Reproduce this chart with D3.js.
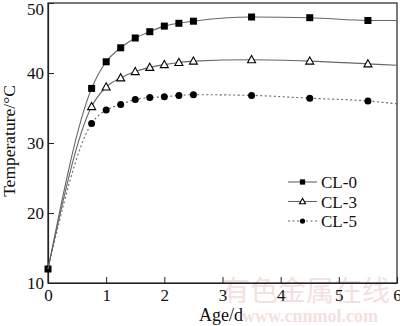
<!DOCTYPE html>
<html><head><meta charset="utf-8">
<script src="https://cdn.jsdelivr.net/npm/d3@7"></script>
<style>body{margin:0;background:#fff}svg{display:block}</style>
</head><body>
<svg id="c" width="400" height="326"></svg>
<script>
const ages = [0, 0.75, 1, 1.25, 1.5, 1.75, 2, 2.25, 2.5, 3.5, 4.5, 5.5, 6];
const cl0 = [12, 37.8, 41.6, 43.6, 45.0, 45.9, 46.7, 47.1, 47.4, 48.0, 47.9, 47.5, 47.5];
const cl3 = [12, 35.2, 38.0, 39.3, 40.2, 40.8, 41.2, 41.5, 41.7, 41.9, 41.7, 41.3, 41.1];
const cl5 = [12, 32.8, 34.7, 35.5, 36.2, 36.5, 36.6, 36.8, 36.9, 36.8, 36.4, 36.0, 35.6];
const seriesNames = ["CL-0", "CL-3", "CL-5"];
const xTicks = [0, 1, 2, 3, 4, 5, 6];
const yTicks = [10, 20, 30, 40, 50];

const svg = d3.select("#c");
const L = 48, R = 397, T = 3, B = 283;
const x = d3.scaleLinear().domain([0, 6]).range([L, R]);
const y = d3.scaleLinear().domain([10, 50]).range([B, T]);
const font = "'Liberation Serif','Times New Roman',serif";

// watermark
svg.append("text").attr("x", 222).attr("y", 301).attr("font-family", "'Noto Sans CJK SC',sans-serif")
  .attr("font-size", 28).attr("fill", "#f4e0e0").text("有色金属在线");
svg.append("text").attr("x", 242).attr("y", 322).attr("font-family", font).attr("font-weight", "bold")
  .attr("font-size", 18).attr("fill", "#f4e0e0").text("www.cnnmol.com");

// frame
svg.append("rect").attr("x", L).attr("y", T).attr("width", R - L).attr("height", B - T)
  .attr("fill", "none").attr("stroke", "#222").attr("stroke-width", 1.2);

const xa = svg.append("g").attr("transform", `translate(0,${B})`)
  .call(d3.axisBottom(x).tickValues(xTicks).tickSizeInner(-6).tickSizeOuter(0).tickPadding(10).tickFormat(d3.format("d")));
const ya = svg.append("g").attr("transform", `translate(${L},0)`)
  .call(d3.axisLeft(y).tickValues(yTicks).tickSizeInner(-6).tickSizeOuter(0).tickPadding(4));
[xa, ya].forEach(a => {
  a.select(".domain").attr("stroke", "#222").attr("stroke-width", 1.2);
  a.selectAll(".tick line").attr("stroke", "#222");
  a.selectAll("text").attr("font-family", font).attr("font-size", 17).attr("fill", "#111");
});
xa.selectAll("text").attr("dy", "0.45em");
ya.selectAll(".tick").filter(d => d === 50).select("text").attr("dy", "0.7em");

svg.append("text").attr("x", 221).attr("y", 321).attr("text-anchor", "middle")
  .attr("font-family", font).attr("font-size", 18).attr("fill", "#111").text("Age/d");
svg.append("text").attr("transform", "translate(15,141) rotate(-90)").attr("text-anchor", "middle")
  .attr("font-family", font).attr("font-size", 17.5).attr("fill", "#111").text("Temperature/°C");

const data = [cl0, cl3, cl5];
const dashes = [null, null, "2,2.5"];
const line = d3.line().x((d, i) => x(ages[i])).y(d => y(d)).curve(d3.curveMonotoneX);

function marker(g, k, cx, cy, s) {
  if (k === 0) g.append("rect").attr("x", cx - 3.5 * s).attr("y", cy - 3.5 * s).attr("width", 7 * s).attr("height", 7 * s).attr("fill", "#000");
  else if (k === 1) g.append("path").attr("d", `M${cx},${cy - 4.2 * s}L${cx + 4 * s},${cy + 3 * s}L${cx - 4 * s},${cy + 3 * s}Z`)
    .attr("fill", "#fff").attr("stroke", "#000").attr("stroke-width", 1.1);
  else g.append("circle").attr("cx", cx).attr("cy", cy).attr("r", 3.5 * s).attr("fill", "#000");
}

data.forEach((vals, k) => {
  svg.append("path").attr("d", line(vals)).attr("fill", "none").attr("stroke", "#666")
    .attr("stroke-width", 1.1).attr("stroke-dasharray", dashes[k]);
  const g = svg.append("g");
  vals.forEach((v, i) => {
    if (i === vals.length - 1) return;
    if (i === 0 && k !== 0) return;
    marker(g, k, x(ages[i]), y(v), 1);
  });
});

// legend
seriesNames.forEach((n, k) => {
  const ly = 182 + k * 19.5;
  svg.append("line").attr("x1", 288).attr("x2", 317).attr("y1", ly).attr("y2", ly)
    .attr("stroke", "#666").attr("stroke-width", 1.1).attr("stroke-dasharray", dashes[k]);
  const g = svg.append("g");
  marker(g, k, 302.5, ly, 0.75);
  svg.append("text").attr("x", 321).attr("y", ly + 6).attr("font-family", font).attr("font-size", 17)
    .attr("fill", "#111").text(n);
});
</script>
</body></html>
